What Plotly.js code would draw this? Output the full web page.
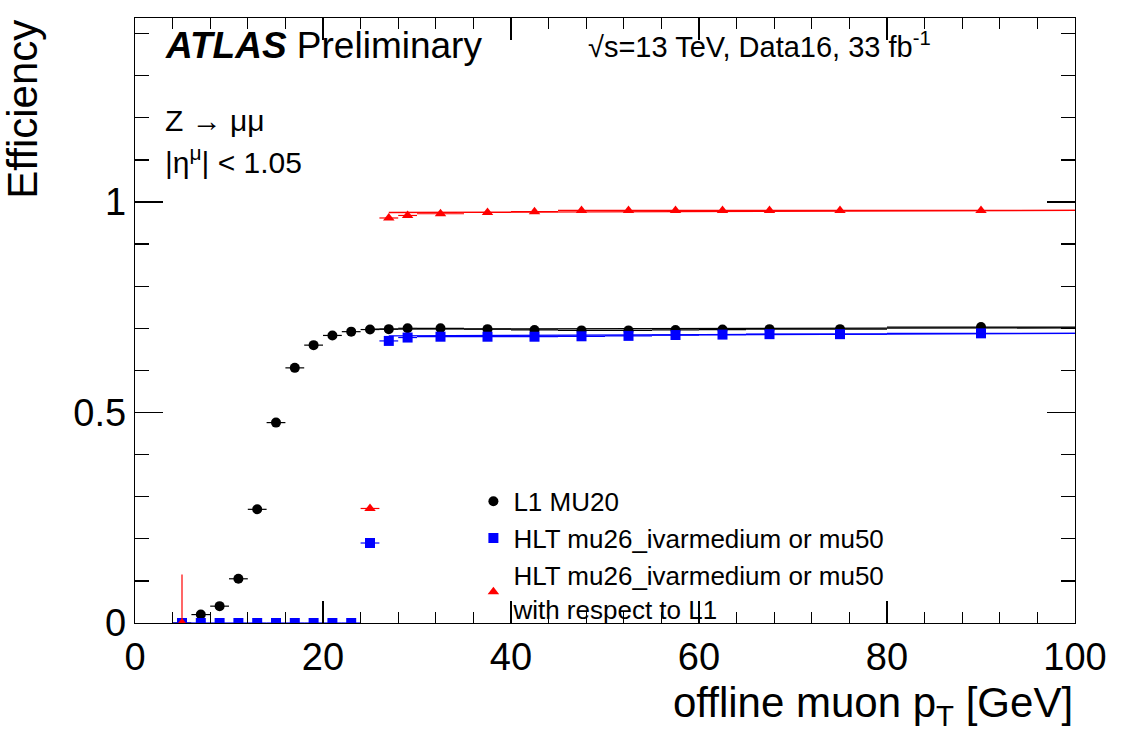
<!DOCTYPE html>
<html>
<head>
<meta charset="utf-8">
<script src="https://cdn.plot.ly/plotly-3.0.1.min.js"></script>
<style>body{margin:0;background:#fff}</style>
</head>
<body>
<div id="chart" style="width:1130px;height:743px"></div>
<script>
// bin centres and half widths (GeV)
const binX = [5, 7, 9, 11, 13, 15, 17, 19, 21, 23, 25, 27, 29, 32.5, 37.5, 42.5, 47.5, 52.5, 57.5, 62.5, 67.5, 75, 90];
const binHalf = [1, 1, 1, 1, 1, 1, 1, 1, 1, 1, 1, 1, 1, 2.5, 2.5, 2.5, 2.5, 2.5, 2.5, 2.5, 2.5, 5, 10];

const l1Eff = [0.0, 0.02, 0.04, 0.105, 0.27, 0.476, 0.606, 0.66, 0.683, 0.692, 0.697, 0.698, 0.700, 0.700, 0.698, 0.696, 0.695, 0.695, 0.696, 0.697, 0.698, 0.698, 0.703];
const l1Err = [0.002, 0.004, 0.005, 0.006, 0.007, 0.006, 0.005, 0.004, 0.004, 0.003, 0.003, 0.002, 0.002, 0.002, 0.002, 0.002, 0.002, 0.002, 0.002, 0.002, 0.003, 0.003, 0.004];

const hltEff = [0, 0, 0, 0, 0, 0, 0, 0, 0, 0, 0.19, 0.670, 0.678, 0.680, 0.680, 0.680, 0.681, 0.682, 0.684, 0.685, 0.686, 0.686, 0.688];
const hltErr = [0.001, 0.001, 0.001, 0.001, 0.001, 0.001, 0.001, 0.001, 0.001, 0.001, 0.006, 0.004, 0.003, 0.002, 0.002, 0.002, 0.002, 0.002, 0.002, 0.002, 0.003, 0.003, 0.004];

const relX = [5, 25, 27, 29, 32.5, 37.5, 42.5, 47.5, 52.5, 57.5, 62.5, 67.5, 75, 90];
const relHalf = [0, 1, 1, 1, 2.5, 2.5, 2.5, 2.5, 2.5, 2.5, 2.5, 2.5, 5, 10];
const relEff = [0.0, 0.272, 0.962, 0.968, 0.972, 0.975, 0.977, 0.980, 0.980, 0.980, 0.980, 0.980, 0.980, 0.980];
const relErrUp = [0.115, 0.006, 0.003, 0.002, 0.002, 0.002, 0.002, 0.002, 0.002, 0.002, 0.002, 0.002, 0.002, 0.003];
const relErrDn = [0, 0.006, 0.003, 0.002, 0.002, 0.002, 0.002, 0.002, 0.002, 0.002, 0.002, 0.002, 0.002, 0.003];

// plateau fits
const l1FitX = [25, 100], l1FitY = [0.698, 0.701];
const hltFitX = [27, 100], hltFitY = [0.682, 0.688];
const relFitX = [27, 100], relFitY = [0.975, 0.980];

const FONT = 'Liberation Sans, Arial, sans-serif';

const pts = (x, y, ex, eyU, eyD, color, symbol, name) => ({
  x: x, y: y, type: 'scatter', mode: 'markers', name: name,
  marker: {color: color, symbol: symbol, size: 10},
  error_x: {type: 'data', array: ex, color: color, thickness: 1.2, width: 0},
  error_y: eyD ? {type: 'data', symmetric: false, array: eyU, arrayminus: eyD, color: color, thickness: 1.2, width: 0}
               : {type: 'data', array: eyU, color: color, thickness: 1.2, width: 0}
});
const fit = (x, y, color) => ({
  x: x, y: y, type: 'scatter', mode: 'lines', showlegend: false, hoverinfo: 'skip',
  line: {color: color, width: 1.3}
});

const traces = [
  fit(l1FitX, l1FitY, 'black'),
  fit(hltFitX, hltFitY, 'blue'),
  fit(relFitX, relFitY, 'red'),
  pts(binX, l1Eff, binHalf, l1Err, null, 'black', 'circle', 'L1 MU20'),
  pts(binX, hltEff, binHalf, hltErr, null, 'blue', 'square', 'HLT mu26_ivarmedium or mu50'),
  pts(relX, relEff, relHalf, relErrUp, relErrDn, 'red', 'triangle-up', 'HLT mu26_ivarmedium or mu50<br>with respect to L1')
];

const axisCommon = {
  showgrid: false, zeroline: false, showline: true, mirror: 'ticks',
  linecolor: 'black', linewidth: 1.3, ticks: 'inside', tickcolor: 'black',
  tickwidth: 1.3, tickfont: {family: FONT, size: 38, color: 'black'}
};

const txt = (x, y, text, size, xanchor, yanchor, extra) => Object.assign({
  xref: 'paper', yref: 'paper', x: x, y: y, xanchor: xanchor, yanchor: yanchor,
  showarrow: false, text: text, font: {family: FONT, size: size, color: 'black'}
}, extra || {});

const layout = {
  width: 1130, height: 743,
  margin: {l: 135, r: 55, t: 18, b: 120},
  paper_bgcolor: 'white', plot_bgcolor: 'white',
  font: {family: FONT, color: 'black'},
  xaxis: Object.assign({}, axisCommon, {
    range: [0, 100], dtick: 20, ticklen: 22,
    minor: {dtick: 4, ticklen: 11, ticks: 'inside', tickcolor: 'black', tickwidth: 1.3}
  }),
  yaxis: Object.assign({}, axisCommon, {
    range: [0, 1.437], tickvals: [0, 0.5, 1], ticktext: ['0', '0.5', '1'], ticklen: 28,
    minor: {dtick: 0.1, ticklen: 14, ticks: 'inside', tickcolor: 'black', tickwidth: 1.3}
  }),
  legend: {
    x: 0.36, y: 0.24, xanchor: 'left', yanchor: 'top',
    bgcolor: 'rgba(0,0,0,0)', font: {family: FONT, size: 26}, tracegroupgap: 0, itemwidth: 30
  },
  annotations: [
    txt(1, -0.09, 'offline muon p<sub>T</sub> [GeV]', 42, 'right', 'top'),
    txt(-0.2, 1.0, 'Efficiency', 42, 'center', 'top', {textangle: -90, x: -0.12}),
    txt(0.03, 0.955, '<b><i>ATLAS</i></b> Preliminary', 37, 'left', 'middle'),
    txt(0.48, 0.955, '√s=13 TeV, Data16, 33 fb<sup>-1</sup>', 29, 'left', 'middle'),
    txt(0.03, 0.83, 'Z → μμ', 30, 'left', 'middle'),
    txt(0.03, 0.765, '|η<sup>μ</sup>| < 1.05', 30, 'left', 'middle')
  ]
};

Plotly.newPlot('chart', traces, layout, {displayModeBar: false, staticPlot: true});
</script>
</body>
</html>
